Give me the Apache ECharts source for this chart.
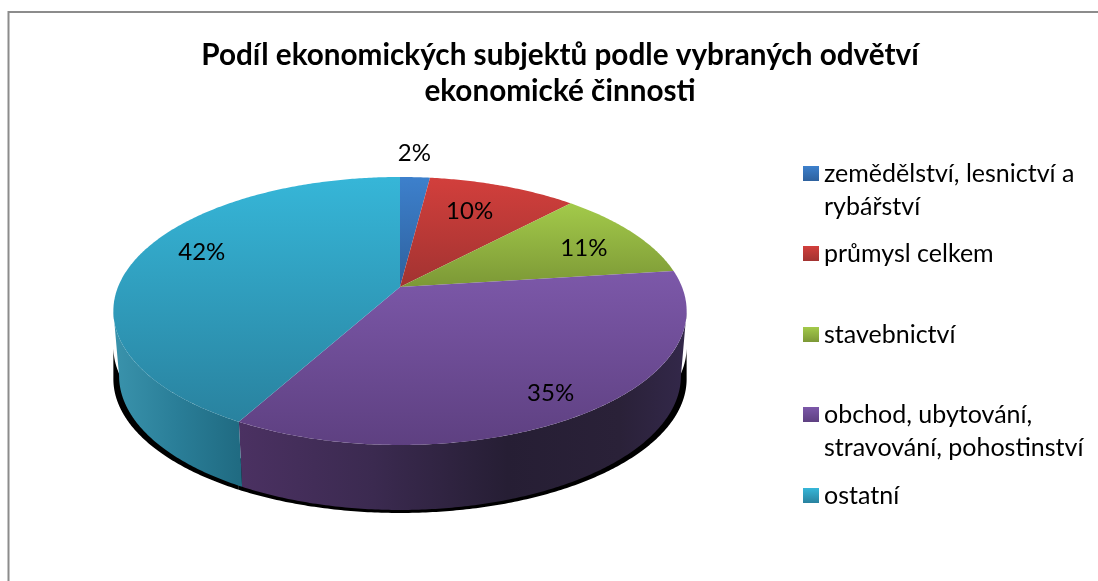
<!DOCTYPE html>
<html><head><meta charset="utf-8">
<style>html,body{margin:0;padding:0;background:#fff}#c{width:1098px;height:581px}</style>
<script src="https://cdn.jsdelivr.net/npm/echarts@6/dist/echarts.min.js"></script>
</head><body><div id="c"></div>
<script>
var titleText = 'Podíl ekonomických subjektů podle vybraných odvětví\nekonomické činnosti';
var categories = ['zemědělství, lesnictví a\nrybářství','průmysl celkem','stavebnictví','obchod, ubytování,\nstravování, pohostinství','ostatní'];
var shares = [2,10,11,35,42];

// --- presentation ---
var FONT='Lato, sans-serif';
var legendTops=[157,237,318,398,479];
var topStops=[['#3d80cc','#2e619e'],['#d23f3c','#a23331'],['#a3ca4a','#7c9836'],['#7c58a9','#5e4081'],['#36b6d8','#29829f']];
var wallStops=[['#2c5c96','#1a3a60'],['#8a2c2a','#5a1c1b'],['#6e8a30','#46581e'],
  [[0,'#4b3162'],[.3,'#3b2a50'],[.6,'#261e34'],[.85,'#2a2138'],[1,'#33284a']],
  [[0,'#3a93ac'],[.5,'#2a7e98'],[1,'#206b82']]];
var labelR=[1.27,.66,.778,.833,.75];
var labelNudge=[[-4,0],[-2,-6],[0,4],[0,4],[0,-11]];
var P={cx:400,cy:287,A:282,B:129.7,k:.179,depth:65,shrink:.98};
var visFrom=Math.acos(-P.k), visTo=2*Math.PI-visFrom;
function proj(t,r){var w=1+P.k*r*Math.cos(t);return [P.cx+P.A*r*Math.sin(t)/w,P.cy-P.B*r*Math.cos(t)/w];}
function arc(a,b){var n=Math.max(2,Math.ceil((b-a)/0.01)),o=[];for(var i=0;i<=n;i++){o.push(proj(a+(b-a)*i/n,1));}return o;}
function lg(stops){return {type:'linear',x:0,y:0,x2:0,y2:1,colorStops:[{offset:0,color:stops[0]},{offset:1,color:stops[1]}]};}
function wallFill(i,x0,x1){var s=wallStops[i];
  var cs=Array.isArray(s[0])?s.map(function(p){return {offset:p[0],color:p[1]};}):[{offset:0,color:s[0]},{offset:1,color:s[1]}];
  return {type:'linear',x:x0,y:0,x2:x1,y2:0,global:true,colorStops:cs};}
var total=shares.reduce(function(a,b){return a+b;},0);
var starts=[];shares.reduce(function(acc,v,i){starts[i]=acc;return acc+v;},0);

function renderer(i){return function(){
  var a=starts[i]/total*2*Math.PI,b=(starts[i]+shares[i])/total*2*Math.PI,kids=[];
  var va=Math.max(a,visFrom),vb=Math.min(b,visTo);
  if(vb>va){
    var rim=arc(va,vb);
    var low=rim.map(function(p){return [P.cx+(p[0]-P.cx)*P.shrink,p[1]+P.depth];}).reverse();
    var sh=rim.map(function(p){return [p[0],p[1]+P.depth+3];});
    var shTop=rim.map(function(p){return [p[0],p[1]+36];}).reverse();
    kids.push({type:'polygon',shape:{points:sh.concat(shTop)},style:{fill:'#000'}});
    var xs=rim.map(function(p){return p[0];});
    kids.push({type:'polygon',shape:{points:rim.concat(low)},
      style:{fill:wallFill(i,Math.min.apply(null,xs),Math.max.apply(null,xs)),stroke:null}});
  }
  var pts=[[P.cx,P.cy]].concat(arc(a,b));
  kids.push({type:'polygon',shape:{points:pts},style:{fill:lg(topStops[i])}});
  var m=(a+b)/2,lp=proj(m,labelR[i]);
  kids.push({type:'text',z2:50,style:{text:shares[i]+'%',x:lp[0]+labelNudge[i][0],y:lp[1]+labelNudge[i][1],
    align:'center',verticalAlign:'middle',fill:'#000',font:'24px '+FONT}});
  return {type:'group',children:kids};
};}

var series=categories.map(function(n,i){return {
  type:'custom',name:n,coordinateSystem:'none',silent:true,animation:false,
  data:[shares[i]],renderItem:renderer(i),
  itemStyle:{color:lg(topStops[i])}
};});
var legends=categories.map(function(n,i){
  var two=n.indexOf('\n')>=0;
  return {data:[n],left:803,top:legendTops[i]-(two?33:0),padding:0,orient:'vertical',
    itemWidth:16,itemHeight:15,itemGap:0,icon:'rect',selectedMode:false,
    formatter:function(s){return two?'\n'+s:s;},
    textStyle:{fontFamily:FONT,fontSize:25,lineHeight:33,color:'#000'}};
});
var chart=echarts.init(document.getElementById('c'),null,{renderer:'canvas'});
chart.setOption({
  animation:false,backgroundColor:'#fff',
  title:{text:titleText,left:555,top:32,textAlign:'center',
    textStyle:{fontFamily:FONT,fontWeight:'bold',fontSize:29.7,lineHeight:36,color:'#000'}},
  legend:legends,
  series:series,
  graphic:[{type:'polyline',silent:true,shape:{points:[[8.5,581],[8.5,12],[1098,12]]},style:{stroke:'#8c8c8c',lineWidth:2,fill:null}}]
});
</script></body></html>
